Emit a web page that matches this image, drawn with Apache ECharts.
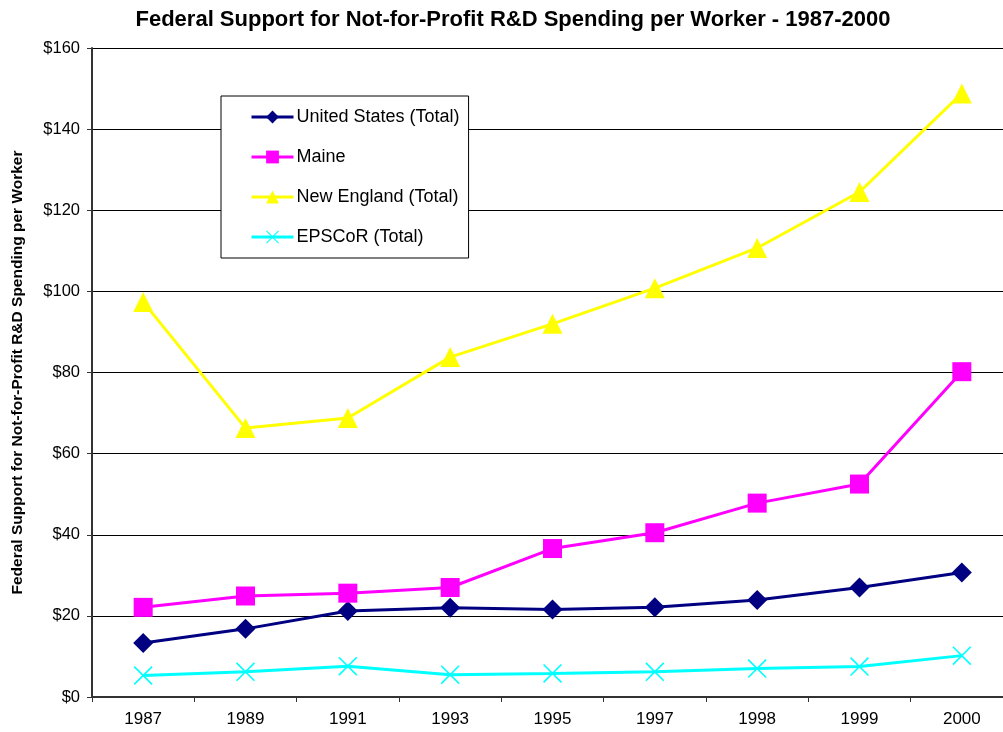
<!DOCTYPE html>
<html>
<head>
<meta charset="utf-8">
<script src="https://cdn.jsdelivr.net/npm/echarts@6/dist/echarts.min.js"></script>
<style>
  html, body { margin: 0; padding: 0; background: #fff; }
  #chart { width: 1003px; height: 732px; }
</style>
</head>
<body>
<div id="chart"></div>
<script>
// data
const years = ['1987', '1989', '1991', '1993', '1995', '1997', '1998', '1999', '2000'];
const usTotal = [13.3, 16.8, 21.2, 22.0, 21.6, 22.1, 23.9, 27.0, 30.7];
const maine = [22.1, 24.9, 25.6, 27.0, 36.6, 40.5, 47.8, 52.5, 80.2];
const newEngland = [97.4, 66.3, 68.8, 83.8, 92.0, 100.8, 110.7, 124.5, 148.8];
const epscor = [5.3, 6.2, 7.6, 5.5, 5.8, 6.2, 7.0, 7.5, 10.2];

const crossPath = 'path://M0,1.2L1.2,0L20,18.8L18.8,20ZM18.8,0L20,1.2L1.2,20L0,18.8Z';
const font = 'Arial, "Liberation Sans", sans-serif';

function lineSeries(name, data, color, symbol, size) {
    return {
        name: name,
        type: 'line',
        data: data,
        symbol: symbol,
        symbolSize: size,
        showAllSymbol: true,
        lineStyle: { color: color, width: 3 },
        itemStyle: { color: color },
        emphasis: { disabled: true }
    };
}

const chart = echarts.init(document.getElementById('chart'));

chart.setOption({
    animation: false,
    backgroundColor: '#fff',
    textStyle: { fontFamily: font },
    title: {
        text: 'Federal Support for Not-for-Profit R&D Spending per Worker - 1987-2000',
        left: 508,
        textAlign: 'center',
        top: 4,
        textStyle: { fontSize: 22, fontWeight: 'bold', color: '#000', fontFamily: font }
    },
    legend: {
        orient: 'vertical',
        left: 221,
        top: 96,
        padding: [12, 9, 12, 29],
        itemWidth: 42,
        itemHeight: 16,
        itemGap: 22,
        borderColor: '#000',
        borderWidth: 1,
        backgroundColor: '#fff',
        lineStyle: { width: 3 },
        textStyle: { fontSize: 18, color: '#000', fontFamily: font, padding: [0, 0, 0, -2] },
        data: ['United States (Total)', 'Maine', 'New England (Total)', 'EPSCoR (Total)']
    },
    grid: { left: 92, right: -10, top: 48, bottom: 35, outerBoundsMode: 'none' },
    xAxis: {
        type: 'category',
        data: years,
        boundaryGap: true,
        axisLine: { lineStyle: { color: '#333', width: 2 } },
        axisTick: { show: true, length: 5, inside: false, lineStyle: { color: '#333' } },
        axisLabel: { fontSize: 17, color: '#000', margin: 14 }
    },
    yAxis: {
        type: 'value',
        min: 0,
        max: 160,
        interval: 20,
        name: 'Federal Support for Not-for-Profit R&D Spending per Worker',
        nameLocation: 'middle',
        nameGap: 66,
        nameRotate: 90,
        nameTextStyle: { fontSize: 15.5, fontWeight: 'bold', color: '#000' },
        axisLine: { show: true, lineStyle: { color: '#333', width: 2 } },
        axisTick: { show: true, length: 5, lineStyle: { color: '#333' } },
        axisLabel: { fontSize: 16.5, color: '#000', margin: 12, formatter: '${value}' },
        splitLine: { lineStyle: { color: '#000', width: 1 } }
    },
    series: [
        lineSeries('United States (Total)', usTotal, '#000080', 'diamond', 20),
        lineSeries('Maine', maine, '#FF00FF', 'rect', 19),
        lineSeries('New England (Total)', newEngland, '#FFFF00', 'triangle', 20),
        lineSeries('EPSCoR (Total)', epscor, '#00FFFF', crossPath, 19)
    ]
});
</script>
</body>
</html>
